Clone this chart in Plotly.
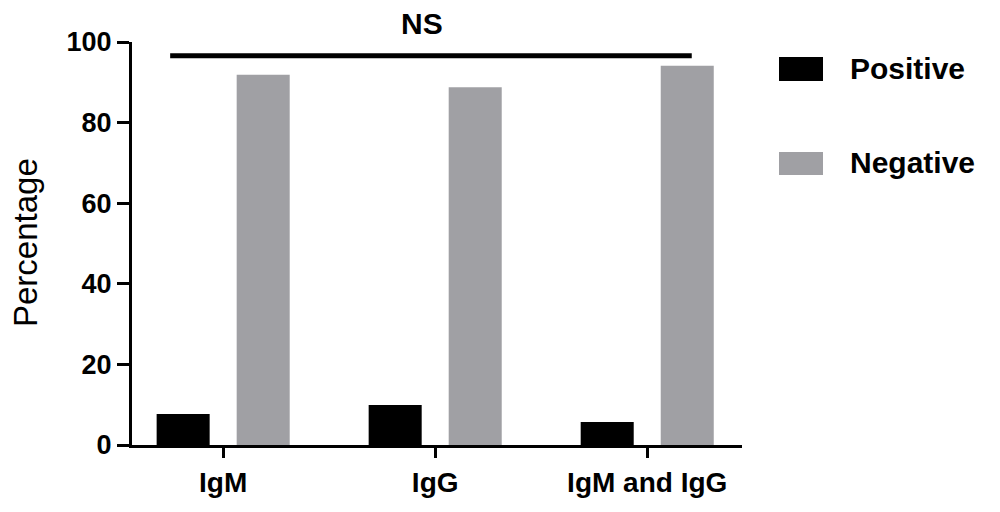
import plotly.graph_objects as go

categories = ["IgM", "IgG", "IgM and IgG"]
series_names = ["Positive", "Negative"]
positive = [7.7, 9.9, 5.7]
negative = [91.9, 88.8, 94.1]
y_ticks = [0, 20, 40, 60, 80, 100]
colors = ["#000000", "#A0A0A4"]
y_title = "Percentage"
sig_label = "NS"

FONT = "Arial, Liberation Sans, sans-serif"

# layout geometry (pixels)
W, H = 1000, 512
L, R, T, B = 132, 258, 42, 67
PW, PH = W - L - R, H - T - B


def px_x(p):
    return (p - L) / PW


def px_y(p):
    return (H - B - p) / PH


fig = go.Figure()
for name, vals, col in zip(series_names, [positive, negative], colors):
    fig.add_trace(go.Bar(x=categories, y=vals, name=name, marker_color=col,
                         marker_line_width=0, showlegend=False))

fig.update_layout(
    width=W, height=H,
    margin=dict(l=L, r=R, t=T, b=B, pad=0, autoexpand=False),
    plot_bgcolor="white", paper_bgcolor="white",
    barmode="group", bargap=0.245, bargroupgap=0.3375,
    font=dict(family=FONT, color="black"),
)

fig.update_xaxes(
    range=[-0.43, 2.447], showline=True, linecolor="black", linewidth=3,
    ticks="outside", ticklen=10, tickwidth=3, tickcolor="black",
    tickfont=dict(size=28, family=FONT, weight="bold"), showgrid=False, zeroline=False,
)
fig.update_yaxes(
    range=[0, 100], tickvals=y_ticks, showline=True, linecolor="black", linewidth=3,
    ticks="outside", ticklen=12, tickwidth=3, tickcolor="black",
    tickfont=dict(size=27, family=FONT, weight="bold"), showgrid=False, zeroline=False,
)

# y-axis title
fig.add_annotation(xref="paper", yref="paper", x=px_x(25), y=px_y(243), text=y_title,
                   textangle=-90, showarrow=False, xanchor="center", yanchor="middle",
                   font=dict(size=33, family=FONT))

# significance bar
fig.add_shape(type="line", xref="x", yref="y", x0=-0.25, x1=2.21, y0=96.6, y1=96.6,
              line=dict(color="black", width=5))
fig.add_annotation(xref="x", yref="paper", x=0.94, y=px_y(23), text=sig_label,
                   showarrow=False, font=dict(size=30, family=FONT, weight="bold"),
                   xanchor="center", yanchor="middle")

# custom legend
legend_rows = [(57, 81, 68), (152, 175, 163)]
for name, col, (y0, y1, yc) in zip(series_names, colors, legend_rows):
    fig.add_shape(type="rect", xref="paper", yref="paper",
                  x0=px_x(779), x1=px_x(823), y0=px_y(y1), y1=px_y(y0),
                  fillcolor=col, line=dict(width=0))
    fig.add_annotation(xref="paper", yref="paper", x=px_x(848), y=px_y(yc),
                       text=name, showarrow=False, xanchor="left", yanchor="middle",
                       font=dict(size=30, family=FONT, weight="bold"))

fig.write_html("out.html", config={"displayModeBar": False},
               post_script="document.body.style.margin='0';document.body.style.overflow='hidden';")
